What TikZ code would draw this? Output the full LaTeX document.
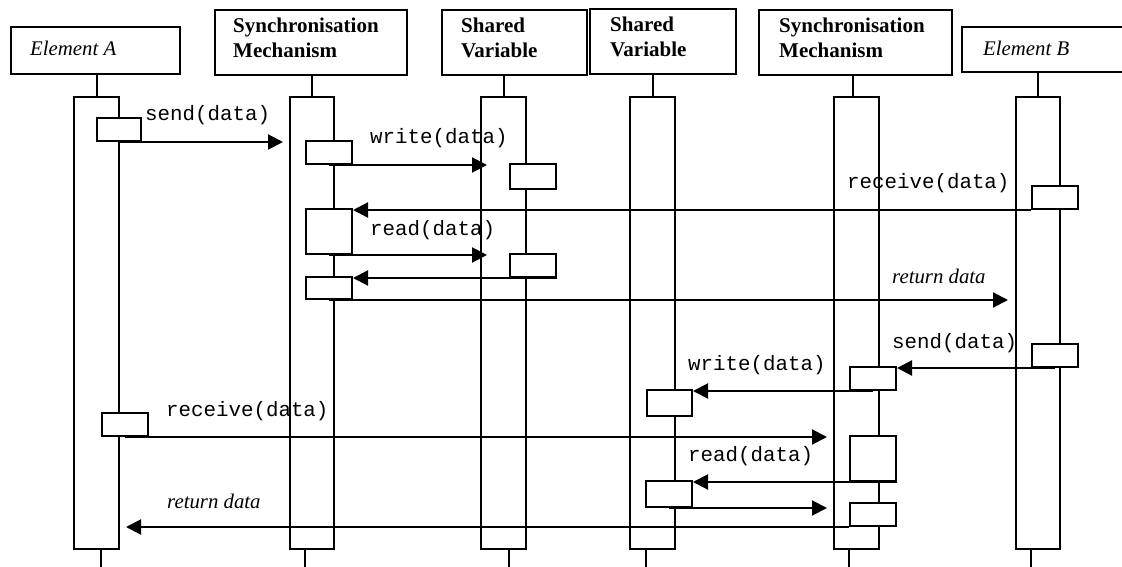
\documentclass[tikz,border=0pt]{standalone}
\usepackage{fontspec}
\setmainfont{Liberation Serif}
\setmonofont{Liberation Mono}
\usetikzlibrary{arrows.meta}
\begin{document}
\begin{tikzpicture}[x=1pt,y=-1pt,
  hdr/.style={draw, line width=2.3pt, inner sep=0pt, anchor=north west},
  hdrline/.style={line width=2.3pt},
  lifebar/.style={draw, fill=white, line width=2pt, inner sep=0pt, anchor=north west},
  abox/.style={draw, fill=white, line width=2pt, inner sep=0pt, anchor=north west},
  ln/.style={line width=2pt},
  msg/.style={line width=2pt, -{Triangle[length=15pt,width=15pt]}},
  htxt/.style={anchor=base west, inner sep=0pt, font=\fontsize{21}{25}\selectfont\bfseries},
  itxt/.style={anchor=base west, inner sep=0pt, font=\fontsize{20.8}{25}\selectfont\itshape},
  mtxt/.style={anchor=base west, inner sep=0pt, font=\fontsize{20.8}{25}\selectfont\ttfamily},
]
\useasboundingbox (0,0) rectangle (1122,567);
\coordinate (bot) at (0,567);

% headers
\node[hdr, minimum width=169pt, minimum height=47pt] (hA) at (10,26) {};
\node[itxt] (hAt) at (30,56) {Element A};
\node[hdr, minimum width=192pt, minimum height=65pt] (hS1) at (214,9) {};
\node[htxt] (hS1t1) at (233,33) {Synchronisation};
\node[htxt] (hS1t2) at (233,58) {Mechanism};
\node[hdr, minimum width=145pt, minimum height=65pt] (hV1) at (441,9) {};
\node[htxt] (hV1t1) at (461,33) {Shared};
\node[htxt] (hV1t2) at (461,58) {Variable};
\node[hdr, minimum width=146pt, minimum height=65pt] (hV2) at (589,8) {};
\node[htxt] (hV2t1) at (610,32) {Shared};
\node[htxt] (hV2t2) at (610,57) {Variable};
\node[hdr, minimum width=193pt, minimum height=65pt] (hS2) at (758,9) {};
\node[htxt] (hS2t1) at (779,33) {Synchronisation};
\node[htxt] (hS2t2) at (779,58) {Mechanism};
\coordinate (hBsw) at (962,72);
\draw[hdrline] (1122,27) -| (hBsw) -- (1122,72);
\node[itxt] (hB) at (983,56) {Element B};

% lifeline bars
\node[lifebar, minimum width=45pt, minimum height=452pt] (A) at (73,96) {};
\node[lifebar, minimum width=44pt, minimum height=452pt] (S1) at (289,96) {};
\node[lifebar, minimum width=45pt, minimum height=452pt] (V1) at (480,96) {};
\node[lifebar, minimum width=45pt, minimum height=452pt] (V2) at (629,96) {};
\node[lifebar, minimum width=45pt, minimum height=452pt] (S2) at (833,96) {};
\node[lifebar, minimum width=44pt, minimum height=452pt] (B) at (1015,96) {};

% stems to headers
\draw[ln] (A.north) -- (A.north |- hA.south);
\draw[ln] (S1.north) -- (S1.north |- hS1.south);
\draw[ln] (V1.north) -- (V1.north |- hV1.south);
\draw[ln] (V2.north) -- (V2.north |- hV2.south);
\draw[ln] ([xshift=-4pt]S2.north) -- ([xshift=-4pt]S2.north |- hS2.south);
\draw[ln] (B.north) -- (B.north |- hBsw);

% activation boxes
\node[abox, minimum width=44pt, minimum height=23pt] (A1) at (96,117) {};
\node[abox, minimum width=46pt, minimum height=23pt] (A2) at (101,412) {};
\node[abox, minimum width=46pt, minimum height=23pt] (S1a) at (305,140) {};
\node[abox, minimum width=46pt, minimum height=45pt] (S1b) at (305,208) {};
\node[abox, minimum width=46pt, minimum height=22pt] (S1c) at (305,276) {};
\node[abox, minimum width=46pt, minimum height=25pt] (V1a) at (509,163) {};
\node[abox, minimum width=46pt, minimum height=23pt] (V1b) at (509,253) {};
\node[abox, minimum width=46pt, minimum height=23pt] (B1) at (1031,185) {};
\node[abox, minimum width=46pt, minimum height=23pt] (B2) at (1031,343) {};
\node[abox, minimum width=46pt, minimum height=23pt] (S2a) at (849,366) {};
\node[abox, minimum width=46pt, minimum height=45pt] (S2b) at (849,435) {};
\node[abox, minimum width=46pt, minimum height=23pt] (S2c) at (849,502) {};
\node[abox, minimum width=45pt, minimum height=26pt] (V2a) at (646,389) {};
\node[abox, minimum width=46pt, minimum height=26pt] (V2b) at (645,480) {};

% tails
\draw[ln] (A2.west |- A.south) -- (A2.west |- bot);
\draw[ln] (S1a.west |- S1.south) -- (S1a.west |- bot);
\draw[ln] (V1a.west |- V1.south) -- (V1a.west |- bot);
\draw[ln] (V2a.west |- V2.south) -- (V2a.west |- bot);
\draw[ln] (S2a.west |- S2.south) -- (S2a.west |- bot);
\draw[ln] (B1.west |- B.south) -- (B1.west |- bot);

% messages
\draw[msg, shorten >=6pt] (A1.south) -- (A1.south -| S1.west);
\node[mtxt] (m1) at (145,121) {send(data)};
\draw[msg, shorten >=-7pt] (S1a.south) -- (S1a.south -| V1.west);
\node[mtxt] (m2) at (370,144) {write(data)};
\draw[msg] (B1.south west) -- (B1.south west -| S1b.east);
\node[mtxt] (m3) at (847,188) {receive(data)};
\draw[msg, shorten >=-7pt] (S1b.south) -- (S1b.south -| V1.west);
\node[mtxt] (m4) at (370,235) {read(data)};
\draw[msg] (V1b.south east) -- (V1b.south east -| S1c.east);
\draw[msg, shorten >=7pt] (S1c.south) -- (S1c.south -| B.west);
\node[itxt] (m6) at (892,283) {return data};
\draw[msg] (B2.south) -- (B2.south -| S2a.east);
\node[mtxt] (m7) at (892,348) {send(data)};
\draw[msg] (S2a.south) -- (S2a.south -| V2a.east);
\node[mtxt] (m8) at (688,370) {write(data)};
\draw[msg, shorten >=6pt] (A2.south) -- (A2.south -| S2.west);
\node[mtxt] (m9) at (166,416) {receive(data)};
\draw[msg] (S2b.south east) -- (S2b.south east -| V2b.east);
\node[mtxt] (m10) at (688,461) {read(data)};
\draw[msg, shorten >=6pt] (V2b.south) -- (V2b.south -| S2.west);
\draw[msg, shorten >=6pt] (S2c.south west) -- (S2c.south west -| A.east);
\node[itxt] (m12) at (167,508) {return data};
\end{tikzpicture}
\end{document}
